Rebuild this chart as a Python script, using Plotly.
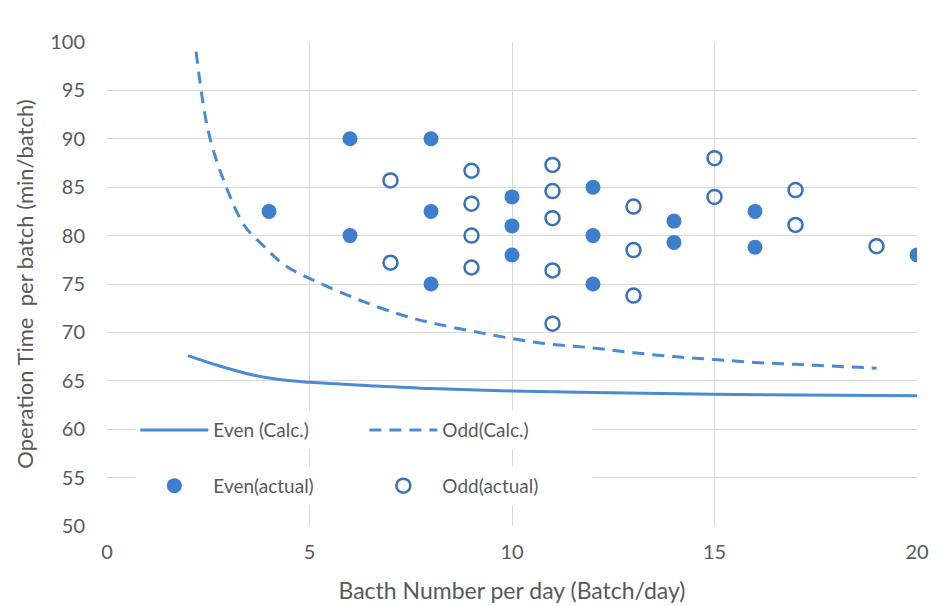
import plotly.graph_objects as go

# Calculated curves
even_calc_x = [2, 2.8, 3.6, 4.3, 5, 6.5, 8, 10, 12, 15, 20]
even_calc_y = [67.6, 66.5, 65.6, 65.1, 64.85, 64.5, 64.2, 63.95, 63.8, 63.6, 63.45]

odd_calc_x = [2.2, 2.5, 2.9, 3.4, 3.9, 4.4, 5.2, 6.2, 7.2, 8, 9.3, 10.7, 12, 13, 14, 15, 16, 17, 18, 19]
odd_calc_y = [99, 90.8, 85.5, 81, 78.8, 76.9, 75.2, 73.4, 71.9, 71.0, 69.9, 68.9,
              68.4, 67.9, 67.5, 67.2, 66.9, 66.7, 66.5, 66.3]

# Actual measurements
even_act_x = [4, 6, 6, 8, 8, 8, 10, 10, 10, 12, 12, 12, 14, 14, 16, 16, 20]
even_act_y = [82.5, 90, 80, 90, 82.5, 75, 84, 81, 78, 85, 80, 75, 81.5, 79.3, 82.5, 78.8, 78]

odd_act_x = [7, 7, 9, 9, 9, 9, 11, 11, 11, 11, 11, 13, 13, 13, 15, 15, 17, 17, 19]
odd_act_y = [85.7, 77.2, 86.7, 83.3, 80, 76.7, 87.3, 84.6, 81.8, 76.4, 70.9,
             83, 78.5, 73.8, 88, 84, 84.7, 81.1, 78.9]

x_ticks = [0, 5, 10, 15, 20]
y_ticks = [50, 55, 60, 65, 70, 75, 80, 85, 90, 95, 100]

LINE = '#4a8bd4'
FILL = '#3d7fcc'
OPEN = '#3a72b8'
TXT = '#595959'
FONT = 'Lato'

fig = go.Figure()
fig.add_trace(go.Scatter(x=even_calc_x, y=even_calc_y, mode='lines', name='Even (Calc.)',
                         line=dict(color=LINE, width=3, shape='spline', smoothing=1), legend='legend'))
fig.add_trace(go.Scatter(x=odd_calc_x, y=odd_calc_y, mode='lines', name='Odd(Calc.)',
                         line=dict(color=LINE, width=3, dash='12px,8px', shape='spline'), legend='legend'))
fig.add_trace(go.Scatter(x=even_act_x, y=even_act_y, mode='markers', name='Even(actual)',
                         marker=dict(color=FILL, size=15, symbol='circle'), legend='legend2'))
fig.add_trace(go.Scatter(x=odd_act_x, y=odd_act_y, mode='markers', name='Odd(actual)',
                         marker=dict(color=OPEN, size=14, symbol='circle-open', line=dict(width=2.5)),
                         legend='legend2'))

leg_common = dict(orientation='h', x=0.035, xanchor='left', yanchor='middle',
                  bgcolor='white', font=dict(family=FONT, size=19, color=TXT),
                  itemwidth=68, entrywidth=146, tracegroupgap=0)

fig.update_layout(
    width=947, height=606,
    margin=dict(l=107, r=30, t=42, b=80),
    paper_bgcolor='white', plot_bgcolor='white',
    font=dict(family=FONT, color=TXT),
    showlegend=True,
    legend=dict(y=0.198, **leg_common),
    legend2=dict(y=0.083, **leg_common),
    xaxis=dict(range=[0, 20], tickvals=x_ticks, showgrid=True, gridcolor='#d9d9d9', gridwidth=1,
               zeroline=False, showline=False, tickfont=dict(size=20, color=TXT, family=FONT),
               ticklabelstandoff=12, automargin=False,
               title=dict(text='Bacth Number per day (Batch/day)', font=dict(size=23, color=TXT, family=FONT),
                          standoff=20)),
    yaxis=dict(range=[50, 100], tickvals=y_ticks, showgrid=True, gridcolor='#d9d9d9', gridwidth=1,
               zeroline=False, showline=False, tickfont=dict(size=20, color=TXT, family=FONT),
               ticklabelstandoff=21, automargin=False,
               title=dict(text='Operation Time\u00a0 per batch (min/batch)', font=dict(size=22, color=TXT, family=FONT),
                          standoff=10)),
)

fig.write_html('out.html')
